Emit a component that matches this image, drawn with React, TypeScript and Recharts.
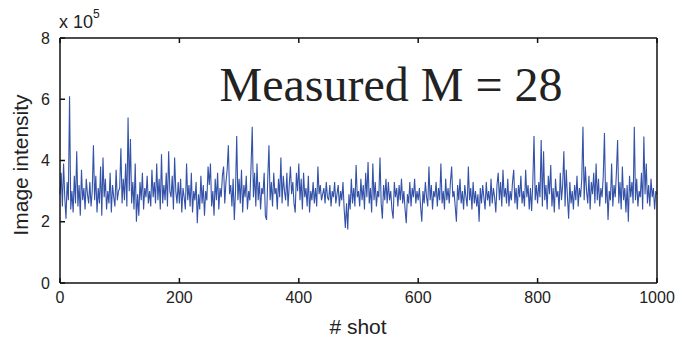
import React from 'react'
import { LineChart, Line, XAxis, YAxis } from 'recharts'

// image intensity per shot, in units of 1e5, read every 2nd shot (0..1000)
const intensity = [
  2.9, 3.6, 2.5, 3.9, 2.8, 2.1, 3.3, 2.7, 6.1, 2.4, 3.0, 2.3, 3.5, 2.6, 4.3, 2.5, 3.2, 2.2, 3.7, 2.7, 3.1, 2.4, 3.4, 2.9, 2.6,
  3.3, 2.5, 3.0, 4.5, 2.7, 3.5, 2.3, 3.1, 2.6, 3.8, 2.2, 4.1, 2.8, 3.4, 2.4, 3.0, 2.6, 3.6, 2.3, 3.2, 2.8, 2.5, 3.7, 2.7, 3.0,
  3.1, 4.4, 2.6, 3.4, 2.7, 3.9, 2.5, 5.4, 3.0, 4.7, 2.6, 3.3, 2.4, 3.9, 2.0, 2.9, 2.2, 3.3, 2.7, 3.6, 2.4, 3.1, 2.8, 3.5, 2.6,
  3.0, 2.5, 3.7, 2.8, 3.3, 2.6, 3.9, 2.7, 3.4, 2.4, 4.2, 2.6, 3.2, 2.7, 3.6, 2.5, 4.3, 3.0, 2.8, 3.5, 2.4, 4.1, 3.0, 2.6, 3.3,
  2.6, 3.4, 2.3, 3.1, 2.8, 2.4, 3.9, 2.7, 3.2, 2.5, 3.6, 2.3, 3.0, 2.7, 3.3, 1.95, 2.9, 2.4, 3.5, 2.6, 3.2, 2.2, 3.0, 2.7, 3.8,
  3.2, 3.9, 2.5, 3.0, 2.2, 3.4, 2.7, 3.6, 2.4, 3.1, 2.8, 3.5, 3.8, 2.6, 3.3, 3.7, 4.5, 2.9, 3.2, 2.5, 3.4, 2.06, 3.0, 4.8, 2.7,
  3.4, 2.6, 3.7, 2.3, 3.2, 2.8, 3.5, 2.4, 3.0, 2.7, 3.8, 5.1, 2.8, 3.6, 2.5, 3.9, 2.7, 3.3, 2.4, 3.1, 2.9, 3.6, 2.2, 2.06, 3.4,
  4.5, 2.7, 3.3, 2.5, 3.6, 2.9, 3.1, 2.4, 3.4, 2.8, 4.1, 2.6, 3.5, 3.0, 2.7, 3.6, 2.5, 3.2, 3.8, 2.9, 3.3, 2.6, 2.3, 3.6, 3.0,
  3.9, 2.7, 3.4, 2.4, 3.6, 2.8, 3.1, 2.5, 3.5, 2.3, 3.0, 2.7, 3.3, 2.6, 3.1, 2.5, 3.8, 2.9, 3.2, 2.7, 2.9, 3.1, 2.6, 3.3, 2.8,
  2.7, 3.2, 2.5, 3.0, 2.8, 3.3, 2.6, 2.9, 3.2, 2.5, 3.0, 2.7, 3.3, 2.4, 1.8, 2.6, 1.75, 2.9, 2.4, 3.4, 2.6, 3.1, 2.5, 3.85, 2.8,
  3.0, 2.5, 3.4, 2.7, 3.2, 2.4, 3.6, 2.8, 3.95, 2.6, 3.1, 2.3, 3.9, 2.7, 3.3, 2.5, 3.0, 2.8, 4.1, 2.6, 2.1, 3.2, 2.7, 3.4, 2.6,
  3.3, 2.7, 3.0, 2.4, 2.1, 3.3, 2.8, 3.1, 2.5, 3.2, 2.7, 3.4, 2.6, 3.0, 2.4, 1.95, 2.9, 2.6, 3.3, 2.5, 3.1, 2.8, 3.4, 2.6, 3.0,
  2.7, 3.1, 2.5, 2.0, 3.0, 2.6, 3.3, 2.8, 2.5, 3.8, 2.7, 3.2, 2.4, 3.0, 2.8, 3.3, 2.5, 3.1, 2.7, 3.9, 2.6, 3.0, 2.4, 3.4, 2.7,
  3.1, 2.6, 3.3, 3.8, 2.8, 3.0, 2.5, 2.0, 3.2, 2.7, 3.4, 2.6, 3.0, 2.4, 3.2, 2.8, 2.5, 3.8, 2.7, 3.1, 2.4, 3.3, 2.6, 3.0, 2.5,
  2.9, 2.0, 3.1, 2.6, 3.2, 2.8, 2.4, 3.3, 2.7, 3.0, 2.5, 3.4, 2.6, 3.1, 2.8, 2.3, 3.2, 3.6, 2.7, 3.3, 2.5, 3.7, 2.8, 3.1, 2.6,
  3.4, 2.5, 3.0, 2.7, 3.3, 3.7, 2.6, 3.1, 2.4, 3.2, 2.8, 3.5, 2.6, 3.0, 2.5, 3.7, 2.8, 3.2, 2.4, 3.1, 2.35, 3.3, 4.8, 2.7, 3.2,
  2.6, 3.3, 2.8, 4.67, 2.5, 4.3, 2.7, 3.2, 2.4, 3.5, 2.9, 3.85, 2.5, 3.1, 2.3, 3.4, 2.8, 3.0, 2.4, 3.6, 2.7, 3.2, 4.3, 2.5, 3.7,
  2.8, 2.1, 3.3, 2.6, 3.0, 2.4, 3.2, 2.7, 3.5, 2.5, 3.1, 2.8, 3.4, 5.1, 2.7, 3.8, 3.0, 2.6, 3.5, 2.4, 3.3, 2.9, 3.6, 2.6, 3.9,
  2.7, 3.4, 2.5, 3.1, 2.8, 3.5, 4.9, 2.6, 3.3, 2.06, 3.0, 2.7, 3.9, 2.5, 3.2, 2.8, 3.6, 4.67, 2.6, 3.3, 2.4, 3.8, 2.7, 3.1, 2.3,
  3.2, 2.0, 3.5, 2.8, 3.3, 2.6, 5.1, 2.7, 3.4, 2.5, 3.0, 2.8, 3.6, 2.4, 4.78, 2.9, 3.9, 2.6, 3.2, 2.5, 3.4, 2.8, 3.1, 2.4, 3.0,
  2.9,
]

const shots = intensity.map((_, i) => i * 2)
const xTicks = [0, 200, 400, 600, 800, 1000]
const yTicks = [0, 2, 4, 6, 8]

const data = shots.map((shot, i) => ({ shot, value: intensity[i] }))

const tickFont = { fontSize: 16, fill: '#222', fontFamily: 'Liberation Sans, Arial, sans-serif' }
const blank = () => ''

const App = () => {
  return (
    <div style={{ position: 'absolute', left: 0, top: 0, width: 679, height: 341, background: '#fff', fontFamily: 'Liberation Sans, Arial, sans-serif' }}>
      <LineChart width={679} height={341} data={data} margin={{ top: 37, right: 21, bottom: 28, left: 0 }}>
        <XAxis
          dataKey="shot"
          type="number"
          domain={[0, 1000]}
          ticks={xTicks}
          height={30}
          tickSize={-5}
          tickMargin={14}
          stroke="#111"
          strokeWidth={1.5}
          tick={tickFont}
        />
        {/* top and right axes close the box, ticks only */}
        <XAxis xAxisId="top" orientation="top" dataKey="shot" type="number" domain={[0, 1000]} ticks={xTicks} height={1} tickSize={-5} tickFormatter={blank} stroke="#111" strokeWidth={1.5} />
        <YAxis
          type="number"
          domain={[0, 8]}
          ticks={yTicks}
          width={60}
          tickSize={-5}
          tickMargin={15}
          stroke="#111"
          strokeWidth={1.5}
          tick={tickFont}
        />
        <YAxis yAxisId="right" orientation="right" type="number" domain={[0, 8]} ticks={yTicks} width={1} tickSize={-5} tickFormatter={blank} stroke="#111" strokeWidth={1.5} />
        <Line dataKey="value" stroke="#3352a8" strokeWidth={1.1} dot={false} isAnimationActive={false} />
      </LineChart>

      {/* axis scale factor */}
      <div style={{ position: 'absolute', left: 59, top: 10, fontSize: 18, color: '#222' }}>
        x 10<sup style={{ fontSize: 12, position: 'relative', top: -3 }}>5</sup>
      </div>

      <div style={{ position: 'absolute', left: 391, top: 84, transform: 'translate(-50%, -50%)', fontFamily: 'Liberation Serif, Times New Roman, serif', fontSize: 48, color: '#222', whiteSpace: 'nowrap' }}>
        Measured M = 28
      </div>

      <div style={{ position: 'absolute', left: 358, top: 327, transform: 'translate(-50%, -50%)', fontSize: 21, color: '#222', whiteSpace: 'nowrap' }}>
        # shot
      </div>

      <div style={{ position: 'absolute', left: 21, top: 165, transform: 'translate(-50%, -50%) rotate(-90deg)', fontSize: 21, color: '#222', whiteSpace: 'nowrap' }}>
        Image intensity
      </div>
    </div>
  )
}

export default App
